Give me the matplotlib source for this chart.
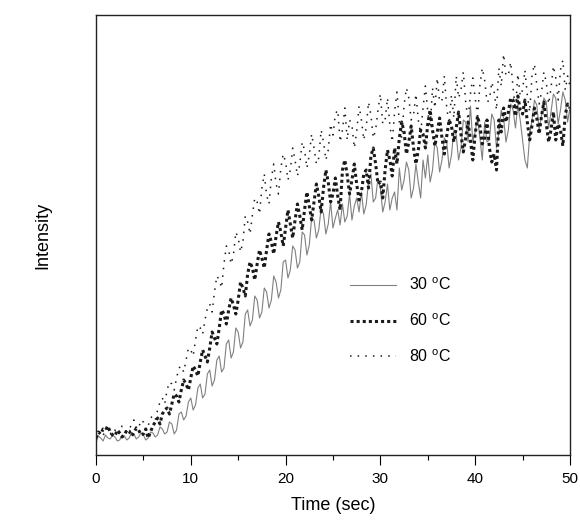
import numpy as np
import matplotlib
matplotlib.use("Agg")
import matplotlib.pyplot as plt

plt.rcParams['font.family'] = ['Liberation Sans', 'DejaVu Sans']
plt.rcParams['mathtext.fontset'] = 'custom'
plt.rcParams['mathtext.rm'] = 'Liberation Sans'

# time axis (sec), sampled every 0.25 s
time_s = np.arange(0, 50.01, 0.25)

# intensity readings (arbitrary units)
int_30 = [18, 24, 22, 19, 25, 22, 21, 25, 23, 19, 20, 25, 24, 20, 22, 27, 26, 21, 23, 27,
          25, 20, 22, 28, 27, 23, 25, 33, 31, 26, 28, 38, 36, 26, 30, 46, 48, 40, 44, 58,
          62, 50, 55, 72, 76, 62, 66, 86, 90, 74, 80, 100, 104, 88, 92, 116, 120, 102, 108, 132,
          128, 112, 118, 146, 150, 134, 140, 164, 160, 142, 148, 172, 168, 152, 160, 184, 178, 162, 170, 198,
          200, 182, 190, 214, 210, 192, 198, 228, 225, 205, 215, 242, 240, 222, 230, 252, 246, 226, 236, 258,
          232, 242, 250, 235, 256, 238, 244, 266, 240, 254, 262, 248, 268, 246, 255, 278, 286, 258, 262, 282,
          272, 248, 258, 276, 250, 262, 268, 250, 292, 270, 280, 298, 290, 262, 272, 296, 278, 262, 300, 282,
          305, 278, 290, 318, 312, 288, 300, 322, 318, 292, 305, 330, 325, 300, 312, 340, 338, 318, 354, 318,
          328, 342, 322, 300, 338, 318, 320, 346, 340, 312, 328, 350, 342, 318, 330, 356, 350, 332, 355, 340,
          320, 300, 292, 325, 340, 360, 355, 330, 345, 362, 358, 332, 348, 366, 362, 336, 350, 368, 360, 338,
          352]
int_60 = [22, 28, 26, 31, 30, 34, 28, 25, 24, 30, 27, 23, 25, 30, 29, 24, 27, 32, 30, 25,
          26, 31, 22, 28, 34, 38, 42, 36, 46, 50, 52, 46, 56, 66, 64, 58, 70, 80, 76, 70,
          82, 94, 90, 84, 98, 110, 104, 98, 112, 128, 122, 116, 132, 150, 146, 136, 150, 162, 155, 146,
          160, 178, 172, 164, 186, 198, 192, 180, 196, 210, 202, 192, 210, 226, 218, 206, 224, 238, 228, 214,
          232, 250, 236, 222, 240, 256, 244, 230, 250, 268, 254, 240, 258, 276, 264, 248, 272, 290, 278, 258,
          266, 282, 264, 250, 290, 300, 285, 266, 280, 296, 276, 260, 268, 286, 290, 272, 304, 312, 296, 276,
          278, 262, 290, 310, 300, 284, 312, 296, 322, 338, 328, 306, 318, 334, 312, 296, 310, 330, 326, 312,
          336, 350, 330, 314, 328, 342, 322, 306, 324, 340, 334, 318, 332, 348, 326, 308, 322, 338, 320, 300,
          326, 344, 334, 316, 322, 340, 312, 298, 306, 290, 340, 328, 352, 338, 348, 362, 360, 344, 364, 350,
          346, 360, 338, 320, 335, 352, 342, 326, 344, 358, 336, 318, 330, 348, 320, 336, 330, 314, 345, 356,
          352]
int_80 = [20, 26, 28, 24, 32, 27, 26, 31, 30, 25, 27, 34, 33, 28, 30, 36, 40, 31, 32, 40,
          38, 30, 34, 42, 44, 40, 50, 58, 62, 56, 70, 78, 76, 70, 82, 92, 94, 88, 100, 112,
          110, 104, 120, 134, 132, 126, 140, 152, 156, 148, 168, 184, 180, 172, 196, 214, 210, 196, 205, 228,
          222, 208, 218, 244, 238, 226, 245, 262, 258, 246, 272, 286, 265, 256, 282, 296, 276, 266, 292, 306,
          298, 280, 290, 312, 300, 284, 296, 318, 310, 292, 305, 326, 312, 296, 302, 330, 318, 300, 310, 336,
          325, 346, 350, 318, 330, 352, 320, 340, 335, 312, 328, 354, 340, 320, 332, 358, 345, 322, 330, 350,
          366, 336, 340, 362, 335, 318, 348, 368, 338, 322, 355, 372, 362, 340, 345, 366, 340, 326, 352, 374,
          348, 332, 372, 352, 382, 358, 360, 384, 352, 336, 365, 342, 384, 362, 370, 388, 358, 340, 366, 382,
          362, 344, 375, 392, 380, 358, 360, 378, 368, 350, 392, 374, 406, 384, 385, 398, 372, 350, 386, 364,
          370, 390, 365, 348, 385, 396, 375, 356, 368, 388, 378, 356, 372, 394, 382, 360, 390, 400, 370, 384,
          374]

labels = [r'30 $^\mathrm{o}$C', r'60 $^\mathrm{o}$C', r'80 $^\mathrm{o}$C']

fig = plt.figure(figsize=(5.8, 5.21), dpi=100)
ax = fig.add_axes([0.1655, 0.1267, 0.8172, 0.8445])

ax.plot(time_s, int_30, color='#808080', lw=0.8, label=labels[0])
ax.plot(time_s, int_60, color='#1a1a1a', lw=2.2, linestyle=(0, (1, 1)), label=labels[1])
ax.plot(time_s, int_80, color='#1a1a1a', lw=1.1, linestyle=(0, (1, 4)), label=labels[2])

ax.set_xlim(0, 50)
ax.set_ylim(5, 445)
ax.set_xticks(np.arange(0, 51, 10))
ax.set_xticks(np.arange(5, 50, 10), minor=True)
ax.set_yticks([])
ax.tick_params(axis='x', which='major', direction='out', length=7, width=0.8, labelsize=11, pad=5)
ax.tick_params(axis='x', which='minor', direction='out', length=3.6, width=0.8)
for sp in ax.spines.values():
    sp.set_linewidth(1.0)
    sp.set_color('#222222')

ax.set_xlabel('Time (sec)', fontsize=13, labelpad=8)
ax.set_ylabel('Intensity', fontsize=13)
ax.yaxis.set_label_coords(-0.095, 0.5)

ax.legend(loc='center left', bbox_to_anchor=(0.535, 0.305), frameon=False,
          fontsize=11.5, handlelength=2.9, handletextpad=0.8, labelspacing=1.2,
          borderpad=0, borderaxespad=0)

fig.savefig('out.png', dpi=100)
